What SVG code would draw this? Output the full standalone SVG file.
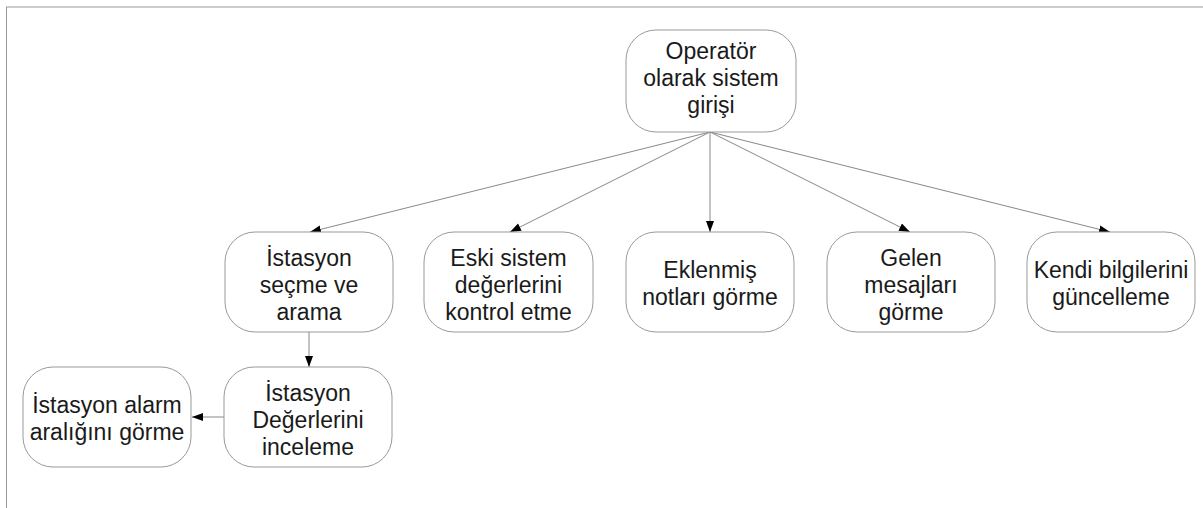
<svg xmlns="http://www.w3.org/2000/svg" width="1203" height="508" viewBox="0 0 1203 508">
<defs>
<marker id="arr" markerUnits="userSpaceOnUse" markerWidth="12" markerHeight="10" refX="11" refY="4" orient="auto">
<path d="M0,0 L11,4 L0,8 Z" fill="#000"/>
</marker>
<style>
.box{fill:#fff;stroke:#999;stroke-width:1}
.t{font-family:"Liberation Sans",Arial,sans-serif;font-size:23px;fill:#1a1a1a;text-anchor:middle}
.c{stroke:#888;stroke-width:1;fill:none;marker-end:url(#arr)}
.frame-top{stroke:#ccc;stroke-width:2}
.frame-left{stroke:#999;stroke-width:1}
</style>
</defs>
<rect width="1203" height="508" fill="#fff"/>
<line class="frame-top" x1="6" y1="7" x2="1203" y2="7"/>
<line class="frame-left" x1="6.5" y1="7" x2="6.5" y2="508"/>
<g id="connectors">
<line class="c" x1="710" y1="132" x2="310" y2="232"/>
<line class="c" x1="710" y1="132" x2="510" y2="232"/>
<line class="c" x1="710" y1="132" x2="710" y2="232"/>
<line class="c" x1="710" y1="132" x2="910" y2="232"/>
<line class="c" x1="710" y1="132" x2="1110" y2="232"/>
<line class="c" x1="309" y1="332" x2="309" y2="367"/>
<line class="c" x1="224" y1="417" x2="192" y2="417"/>
</g>
<g id="n-top">
<rect class="box" x="626" y="30" width="170" height="102" rx="30"/>
<text class="t" x="711" y="59">Operatör</text>
<text class="t" x="711" y="86">olarak sistem</text>
<text class="t" x="711" y="113">girişi</text>
</g>
<g id="n-istasyon">
<rect class="box" x="225" y="232" width="168" height="100" rx="30"/>
<text class="t" x="309" y="266">İstasyon</text>
<text class="t" x="309" y="293">seçme ve</text>
<text class="t" x="309" y="320">arama</text>
</g>
<g id="n-eski">
<rect class="box" x="424" y="232" width="169" height="100" rx="30"/>
<text class="t" x="508.5" y="266">Eski sistem</text>
<text class="t" x="508.5" y="293">değerlerini</text>
<text class="t" x="508.5" y="320">kontrol etme</text>
</g>
<g id="n-eklenmis">
<rect class="box" x="626" y="232" width="168" height="100" rx="30"/>
<text class="t" x="710" y="278">Eklenmiş</text>
<text class="t" x="710" y="305">notları görme</text>
</g>
<g id="n-gelen">
<rect class="box" x="827" y="232" width="168" height="100" rx="30"/>
<text class="t" x="911" y="266">Gelen</text>
<text class="t" x="911" y="293">mesajları</text>
<text class="t" x="911" y="320">görme</text>
</g>
<g id="n-kendi">
<rect class="box" x="1027" y="232" width="168" height="100" rx="30"/>
<text class="t" x="1111" y="278">Kendi bilgilerini</text>
<text class="t" x="1111" y="305">güncelleme</text>
</g>
<g id="n-degerler">
<rect class="box" x="224" y="367" width="168" height="100" rx="30"/>
<text class="t" x="308" y="401">İstasyon</text>
<text class="t" x="308" y="428">Değerlerini</text>
<text class="t" x="308" y="455">inceleme</text>
</g>
<g id="n-alarm">
<rect class="box" x="23" y="367" width="168" height="100" rx="30"/>
<text class="t" x="107" y="413">İstasyon alarm</text>
<text class="t" x="107" y="440">aralığını görme</text>
</g>
</svg>
